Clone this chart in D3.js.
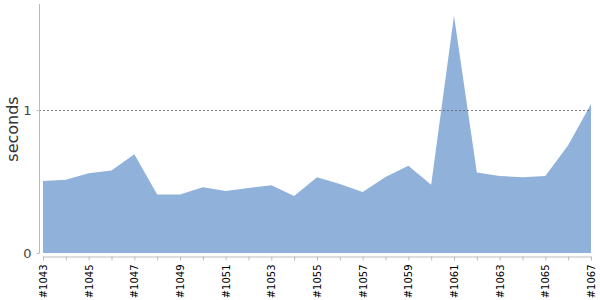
<!DOCTYPE html>
<html>
<head>
<meta charset="utf-8">
<script src="https://cdn.jsdelivr.net/npm/d3@7"></script>
<style>
  body { margin: 0; background: #fff; }
  svg { display: block; font-family: "DejaVu Sans", sans-serif; }
</style>
</head>
<body>
<div id="chart"></div>
<script>
var builds = ["#1043","#1044","#1045","#1046","#1047","#1048","#1049","#1050","#1051","#1052",
              "#1053","#1054","#1055","#1056","#1057","#1058","#1059","#1060","#1061","#1062",
              "#1063","#1064","#1065","#1066","#1067"];
var seconds = [0.503,0.513,0.558,0.578,0.69,0.41,0.41,0.46,0.434,0.455,
               0.474,0.399,0.530,0.483,0.427,0.532,0.611,0.478,1.659,0.563,
               0.538,0.530,0.538,0.754,1.043];
var yTicks = [0, 1];

var width = 600, height = 300;

var svg = d3.select("#chart").append("svg")
    .attr("width", width)
    .attr("height", height);

var x = d3.scalePoint().domain(builds).range([43, 591]);
var y = d3.scaleLinear().domain([0, d3.max(seconds) * 1.05]).range([253, 4]);

var area = d3.area()
    .x(function(d, i){ return x(builds[i]); })
    .y0(y(0))
    .y1(function(d){ return y(d); });

svg.append("path")
    .datum(seconds)
    .attr("d", area)
    .style("fill", "#8fb1da");

// dashed gridline at 1, drawn over the area
svg.selectAll(".grid")
    .data([1])
  .enter().append("line")
    .attr("class", "grid")
    .attr("x1", 39).attr("x2", 591)
    .attr("y1", function(d){ return Math.round(y(d)) + 0.5; })
    .attr("y2", function(d){ return Math.round(y(d)) + 0.5; })
    .style("stroke", "#666")
    .style("stroke-dasharray", "2,2")
    .style("stroke-opacity", 0.85);

// y axis
var yAxis = svg.append("g")
    .attr("transform", "translate(39.5,0)")
    .call(d3.axisLeft(y).tickValues(yTicks).tickSize(3).tickFormat(d3.format("d")));
yAxis.select(".domain").attr("d", "M0," + y.range()[1] + "V" + y.range()[0]).style("stroke", "#bbb");
yAxis.selectAll(".tick line").style("stroke", "#bbb");
yAxis.selectAll(".tick text")
    .attr("x", -8)
    .style("font-size", "13px")
    .style("font-family", "DejaVu Sans, sans-serif")
    .style("fill", "#444");

// x axis
var xAxis = svg.append("g")
    .attr("transform", "translate(0,256.5)")
    .call(d3.axisBottom(x).tickSize(4).tickSizeOuter(0)
      .tickFormat(function(d, i){ return i % 2 === 0 ? d : ""; }));
xAxis.select(".domain").style("stroke", "#bbb");
xAxis.selectAll(".tick line").style("stroke", "#bbb");
xAxis.selectAll(".tick text")
    .attr("transform", "rotate(-90)")
    .attr("x", -8)
    .attr("y", 0)
    .attr("dy", "0.35em")
    .style("text-anchor", "end")
    .style("font-size", "10px")
    .style("font-family", "DejaVu Sans, sans-serif")
    .style("fill", "#000");

// y label
svg.append("text")
    .attr("transform", "translate(18,129) rotate(-90)")
    .style("text-anchor", "middle")
    .style("font-size", "16px")
    .style("fill", "#333")
    .text("seconds");
</script>
</body>
</html>
